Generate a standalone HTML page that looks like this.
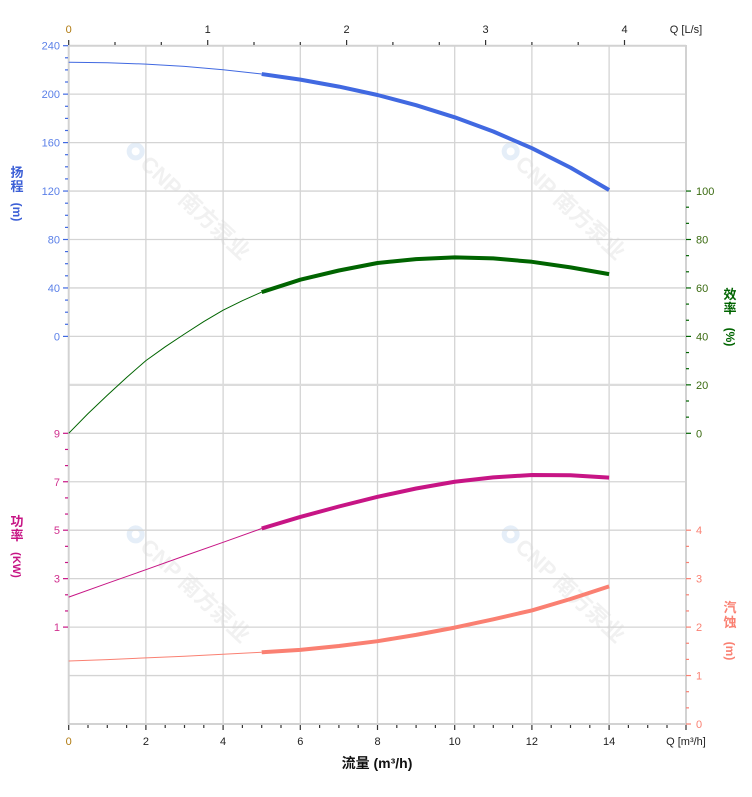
<!DOCTYPE html>
<html><head><meta charset="utf-8">
<style>
html,body{margin:0;padding:0;background:#fff;}
svg{display:block;}
text{font-family:"Liberation Sans","Noto Sans CJK SC",Arial,sans-serif;}
</style></head>
<body>
<svg width="752" height="797" viewBox="0 0 752 797" xmlns="http://www.w3.org/2000/svg">
<rect width="752" height="797" fill="#fff"/>

<!-- watermarks -->
<g opacity="0.75">
<g transform="translate(185,207) rotate(43)"><circle cx="-74" cy="-7" r="9" fill="#dde9f6"/><circle cx="-74" cy="-7" r="4" fill="#fff"/><text x="-62" y="1" font-size="22" font-weight="bold" fill="#ececec">CNP 南方泵业</text></g>
<g transform="translate(560,207) rotate(43)"><circle cx="-74" cy="-7" r="9" fill="#dde9f6"/><circle cx="-74" cy="-7" r="4" fill="#fff"/><text x="-62" y="1" font-size="22" font-weight="bold" fill="#ececec">CNP 南方泵业</text></g>
<g transform="translate(185,590) rotate(43)"><circle cx="-74" cy="-7" r="9" fill="#dde9f6"/><circle cx="-74" cy="-7" r="4" fill="#fff"/><text x="-62" y="1" font-size="22" font-weight="bold" fill="#ececec">CNP 南方泵业</text></g>
<g transform="translate(560,590) rotate(43)"><circle cx="-74" cy="-7" r="9" fill="#dde9f6"/><circle cx="-74" cy="-7" r="4" fill="#fff"/><text x="-62" y="1" font-size="22" font-weight="bold" fill="#ececec">CNP 南方泵业</text></g>
</g>

<!-- grid -->
<g stroke="#d4d4d4" stroke-width="1.3">
<line x1="145.9" y1="45.7" x2="145.9" y2="724"/>
<line x1="223.1" y1="45.7" x2="223.1" y2="724"/>
<line x1="300.3" y1="45.7" x2="300.3" y2="724"/>
<line x1="377.5" y1="45.7" x2="377.5" y2="724"/>
<line x1="454.7" y1="45.7" x2="454.7" y2="724"/>
<line x1="531.9" y1="45.7" x2="531.9" y2="724"/>
<line x1="609.1" y1="45.7" x2="609.1" y2="724"/>
<line x1="68.7" y1="94.15" x2="686" y2="94.15"/>
<line x1="68.7" y1="142.6" x2="686" y2="142.6"/>
<line x1="68.7" y1="191.05" x2="686" y2="191.05"/>
<line x1="68.7" y1="239.5" x2="686" y2="239.5"/>
<line x1="68.7" y1="287.95" x2="686" y2="287.95"/>
<line x1="68.7" y1="336.4" x2="686" y2="336.4"/>
<line x1="68.7" y1="433.3" x2="686" y2="433.3"/>
<line x1="68.7" y1="481.75" x2="686" y2="481.75"/>
<line x1="68.7" y1="530.2" x2="686" y2="530.2"/>
<line x1="68.7" y1="578.65" x2="686" y2="578.65"/>
<line x1="68.7" y1="627.1" x2="686" y2="627.1"/>
<line x1="68.7" y1="675.55" x2="686" y2="675.55"/>
</g>
<line x1="68.7" y1="384.85" x2="686" y2="384.85" stroke="#dcdcdc" stroke-width="2.2"/>

<!-- frame -->
<g stroke="#d2d2d2" stroke-width="2">
<line x1="68.7" y1="45.7" x2="686" y2="45.7"/>
<line x1="68.7" y1="724" x2="686" y2="724"/>
<line x1="68.7" y1="45" x2="68.7" y2="725"/>
<line x1="686" y1="45" x2="686" y2="725"/>
</g>

<!-- top ticks (L/s) -->
<g stroke="#333" stroke-width="1.2">
<line x1="68.7" y1="40" x2="68.7" y2="45"/>
<line x1="115.0" y1="42" x2="115.0" y2="45"/>
<line x1="161.3" y1="42" x2="161.3" y2="45"/>
<line x1="207.7" y1="40" x2="207.7" y2="45"/>
<line x1="254.0" y1="42" x2="254.0" y2="45"/>
<line x1="300.3" y1="42" x2="300.3" y2="45"/>
<line x1="346.6" y1="40" x2="346.6" y2="45"/>
<line x1="392.9" y1="42" x2="392.9" y2="45"/>
<line x1="439.3" y1="42" x2="439.3" y2="45"/>
<line x1="485.6" y1="40" x2="485.6" y2="45"/>
<line x1="531.9" y1="42" x2="531.9" y2="45"/>
<line x1="578.2" y1="42" x2="578.2" y2="45"/>
<line x1="624.5" y1="40" x2="624.5" y2="45"/>
</g>
<g font-size="11" fill="#222" text-anchor="middle">
<text x="68.7" y="33" fill="#b07a10">0</text>
<text x="207.7" y="33">1</text>
<text x="346.6" y="33">2</text>
<text x="485.6" y="33">3</text>
<text x="624.5" y="33">4</text>
<text x="686" y="33">Q [L/s]</text>
</g>

<!-- bottom ticks (m3/h) -->
<g stroke="#333" stroke-width="1.2">
<line x1="68.7" y1="725" x2="68.7" y2="730"/>
<line x1="88.0" y1="725" x2="88.0" y2="728"/>
<line x1="107.3" y1="725" x2="107.3" y2="728"/>
<line x1="126.6" y1="725" x2="126.6" y2="728"/>
<line x1="145.9" y1="725" x2="145.9" y2="730"/>
<line x1="165.2" y1="725" x2="165.2" y2="728"/>
<line x1="184.5" y1="725" x2="184.5" y2="728"/>
<line x1="203.8" y1="725" x2="203.8" y2="728"/>
<line x1="223.1" y1="725" x2="223.1" y2="730"/>
<line x1="242.4" y1="725" x2="242.4" y2="728"/>
<line x1="261.7" y1="725" x2="261.7" y2="728"/>
<line x1="281.0" y1="725" x2="281.0" y2="728"/>
<line x1="300.3" y1="725" x2="300.3" y2="730"/>
<line x1="319.6" y1="725" x2="319.6" y2="728"/>
<line x1="338.9" y1="725" x2="338.9" y2="728"/>
<line x1="358.2" y1="725" x2="358.2" y2="728"/>
<line x1="377.5" y1="725" x2="377.5" y2="730"/>
<line x1="396.8" y1="725" x2="396.8" y2="728"/>
<line x1="416.1" y1="725" x2="416.1" y2="728"/>
<line x1="435.4" y1="725" x2="435.4" y2="728"/>
<line x1="454.7" y1="725" x2="454.7" y2="730"/>
<line x1="474.0" y1="725" x2="474.0" y2="728"/>
<line x1="493.3" y1="725" x2="493.3" y2="728"/>
<line x1="512.6" y1="725" x2="512.6" y2="728"/>
<line x1="531.9" y1="725" x2="531.9" y2="730"/>
<line x1="551.2" y1="725" x2="551.2" y2="728"/>
<line x1="570.5" y1="725" x2="570.5" y2="728"/>
<line x1="589.8" y1="725" x2="589.8" y2="728"/>
<line x1="609.1" y1="725" x2="609.1" y2="730"/>
<line x1="628.4" y1="725" x2="628.4" y2="728"/>
<line x1="647.7" y1="725" x2="647.7" y2="728"/>
<line x1="667.0" y1="725" x2="667.0" y2="728"/>
<line x1="686" y1="725" x2="686" y2="730"/>
</g>
<g font-size="11" fill="#222" text-anchor="middle">
<text x="68.7" y="745" fill="#b07a10">0</text>
<text x="145.9" y="745">2</text>
<text x="223.1" y="745">4</text>
<text x="300.3" y="745">6</text>
<text x="377.5" y="745">8</text>
<text x="454.7" y="745">10</text>
<text x="531.9" y="745">12</text>
<text x="609.1" y="745">14</text>
<text x="686" y="745">Q [m³/h]</text>
</g>
<text x="377" y="768" font-size="14" font-weight="bold" fill="#111" text-anchor="middle">流量 (m³/h)</text>

<!-- left head axis ticks -->
<g stroke="#4169E1" stroke-width="1.2">
<line x1="63" y1="45.7" x2="68" y2="45.7"/>
<line x1="65" y1="57.8" x2="68" y2="57.8"/>
<line x1="65" y1="69.9" x2="68" y2="69.9"/>
<line x1="65" y1="82.0" x2="68" y2="82.0"/>
<line x1="63" y1="94.15" x2="68" y2="94.15"/>
<line x1="65" y1="106.3" x2="68" y2="106.3"/>
<line x1="65" y1="118.4" x2="68" y2="118.4"/>
<line x1="65" y1="130.5" x2="68" y2="130.5"/>
<line x1="63" y1="142.6" x2="68" y2="142.6"/>
<line x1="65" y1="154.7" x2="68" y2="154.7"/>
<line x1="65" y1="166.8" x2="68" y2="166.8"/>
<line x1="65" y1="178.9" x2="68" y2="178.9"/>
<line x1="63" y1="191.05" x2="68" y2="191.05"/>
<line x1="65" y1="203.2" x2="68" y2="203.2"/>
<line x1="65" y1="215.3" x2="68" y2="215.3"/>
<line x1="65" y1="227.4" x2="68" y2="227.4"/>
<line x1="63" y1="239.5" x2="68" y2="239.5"/>
<line x1="65" y1="251.6" x2="68" y2="251.6"/>
<line x1="65" y1="263.7" x2="68" y2="263.7"/>
<line x1="65" y1="275.8" x2="68" y2="275.8"/>
<line x1="63" y1="287.95" x2="68" y2="287.95"/>
<line x1="65" y1="300.1" x2="68" y2="300.1"/>
<line x1="65" y1="312.2" x2="68" y2="312.2"/>
<line x1="65" y1="324.3" x2="68" y2="324.3"/>
<line x1="63" y1="336.4" x2="68" y2="336.4"/>
</g>
<g font-size="11" fill="#5b80e8" text-anchor="end">
<text x="60" y="49.7">240</text>
<text x="60" y="98.2">200</text>
<text x="60" y="146.6">160</text>
<text x="60" y="195">120</text>
<text x="60" y="243.5">80</text>
<text x="60" y="292">40</text>
<text x="60" y="340.4">0</text>
</g>
<g fill="#3c5fd6" font-size="13" font-weight="bold" text-anchor="middle">
<text x="17" y="177" font-family="'Noto Sans CJK SC',sans-serif">扬</text>
<text x="17" y="191" font-family="'Noto Sans CJK SC',sans-serif">程</text>
<text transform="translate(17,212) rotate(90)" y="4" font-size="12">(m)</text>
</g>

<!-- left power axis ticks -->
<g stroke="#C71585" stroke-width="1.2">
<line x1="63" y1="433.3" x2="68" y2="433.3"/>
<line x1="65" y1="449.45" x2="68" y2="449.45"/>
<line x1="65" y1="465.6" x2="68" y2="465.6"/>
<line x1="63" y1="481.75" x2="68" y2="481.75"/>
<line x1="65" y1="497.9" x2="68" y2="497.9"/>
<line x1="65" y1="514.05" x2="68" y2="514.05"/>
<line x1="63" y1="530.2" x2="68" y2="530.2"/>
<line x1="65" y1="546.35" x2="68" y2="546.35"/>
<line x1="65" y1="562.5" x2="68" y2="562.5"/>
<line x1="63" y1="578.65" x2="68" y2="578.65"/>
<line x1="65" y1="594.8" x2="68" y2="594.8"/>
<line x1="65" y1="610.95" x2="68" y2="610.95"/>
<line x1="63" y1="627.1" x2="68" y2="627.1"/>
</g>
<g font-size="11" fill="#d0308f" text-anchor="end">
<text x="60" y="437.3">9</text>
<text x="60" y="485.8">7</text>
<text x="60" y="534.2">5</text>
<text x="60" y="582.7">3</text>
<text x="60" y="631.1">1</text>
</g>
<g fill="#C71585" font-size="13" font-weight="bold" text-anchor="middle">
<text x="17" y="526" font-family="'Noto Sans CJK SC',sans-serif">功</text>
<text x="17" y="540" font-family="'Noto Sans CJK SC',sans-serif">率</text>
<text transform="translate(17,565) rotate(90)" y="4" font-size="11">(KW)</text>
</g>

<!-- right efficiency axis ticks -->
<g stroke="#006400" stroke-width="1.2">
<line x1="686" y1="191.05" x2="691" y2="191.05"/>
<line x1="686" y1="207.2" x2="689" y2="207.2"/>
<line x1="686" y1="223.35" x2="689" y2="223.35"/>
<line x1="686" y1="239.5" x2="691" y2="239.5"/>
<line x1="686" y1="255.65" x2="689" y2="255.65"/>
<line x1="686" y1="271.8" x2="689" y2="271.8"/>
<line x1="686" y1="287.95" x2="691" y2="287.95"/>
<line x1="686" y1="304.1" x2="689" y2="304.1"/>
<line x1="686" y1="320.25" x2="689" y2="320.25"/>
<line x1="686" y1="336.4" x2="691" y2="336.4"/>
<line x1="686" y1="352.55" x2="689" y2="352.55"/>
<line x1="686" y1="368.7" x2="689" y2="368.7"/>
<line x1="686" y1="384.85" x2="691" y2="384.85"/>
<line x1="686" y1="401.0" x2="689" y2="401.0"/>
<line x1="686" y1="417.15" x2="689" y2="417.15"/>
<line x1="686" y1="433.3" x2="691" y2="433.3"/>
</g>
<g font-size="11" fill="#3a6a10" text-anchor="start">
<text x="696" y="195">100</text>
<text x="696" y="243.5">80</text>
<text x="696" y="292">60</text>
<text x="696" y="340.4">40</text>
<text x="696" y="388.9">20</text>
<text x="696" y="437.3">0</text>
</g>
<g fill="#006400" font-size="13" font-weight="bold" text-anchor="middle">
<text x="730" y="299" font-family="'Noto Sans CJK SC',sans-serif">效</text>
<text x="730" y="313" font-family="'Noto Sans CJK SC',sans-serif">率</text>
<text transform="translate(730,337) rotate(90)" y="4" font-size="12">(%)</text>
</g>

<!-- right NPSH axis ticks -->
<g stroke="#FA8072" stroke-width="1.2">
<line x1="686" y1="530.2" x2="691" y2="530.2"/>
<line x1="686" y1="546.35" x2="689" y2="546.35"/>
<line x1="686" y1="562.5" x2="689" y2="562.5"/>
<line x1="686" y1="578.65" x2="691" y2="578.65"/>
<line x1="686" y1="594.8" x2="689" y2="594.8"/>
<line x1="686" y1="610.95" x2="689" y2="610.95"/>
<line x1="686" y1="627.1" x2="691" y2="627.1"/>
<line x1="686" y1="643.25" x2="689" y2="643.25"/>
<line x1="686" y1="659.4" x2="689" y2="659.4"/>
<line x1="686" y1="675.55" x2="691" y2="675.55"/>
<line x1="686" y1="691.7" x2="689" y2="691.7"/>
<line x1="686" y1="707.85" x2="689" y2="707.85"/>
<line x1="686" y1="724" x2="691" y2="724"/>
</g>
<g font-size="11" fill="#FA8072" text-anchor="start">
<text x="696" y="534.2">4</text>
<text x="696" y="582.7">3</text>
<text x="696" y="631.1">2</text>
<text x="696" y="679.6">1</text>
<text x="696" y="728">0</text>
</g>
<g fill="#FA8072" font-size="13" font-weight="bold" text-anchor="middle">
<text x="730" y="612" font-family="'Noto Sans CJK SC',sans-serif">汽</text>
<text x="730" y="627" font-family="'Noto Sans CJK SC',sans-serif">蚀</text>
<text transform="translate(730,651) rotate(90)" y="4" font-size="12">(m)</text>
</g>

<!-- curves -->
<g fill="none" stroke-linejoin="round">
<polyline stroke="#4169E1" stroke-width="1" points="68.7,62.3 107.3,62.7 145.9,64.1 184.5,66.4 223.1,69.7 261.7,74.05"/>
<polyline stroke="#4169E1" stroke-width="4" points="261.7,74.05 300.3,79.6 338.9,86.6 377.5,95.0 416.1,105.2 454.7,117.3 493.3,131.5 531.9,148.2 570.5,167.6 609.1,190.0"/>

<polyline stroke="#006400" stroke-width="1" points="68.7,433.3 88,413.6 107.3,395.3 126.6,377.5 145.9,360.6 165.2,346.8 184.5,334.0 203.8,321.6 223.1,310.2 242.4,300.7 261.7,292.1"/>
<polyline stroke="#006400" stroke-width="4" points="261.7,292.1 300.3,279.7 338.9,270.5 377.5,263.0 416.1,259.1 454.7,257.4 493.3,258.4 531.9,261.8 570.5,267.4 609.1,274.1"/>

<polyline stroke="#C71585" stroke-width="1" points="68.7,597.1 107.3,583.3 145.9,569.7 184.5,555.9 223.1,542.3 261.7,528.5"/>
<polyline stroke="#C71585" stroke-width="4" points="261.7,528.5 300.3,516.9 338.9,506.5 377.5,496.8 416.1,488.5 454.7,481.75 493.3,477.4 531.9,475.0 570.5,475.2 609.1,477.6"/>

<polyline stroke="#FA8072" stroke-width="1" points="68.7,661.0 107.3,659.6 145.9,657.9 184.5,656.2 223.1,654.2 261.7,652.3"/>
<polyline stroke="#FA8072" stroke-width="4" points="261.7,652.3 300.3,649.9 338.9,646.0 377.5,641.2 416.1,634.9 454.7,627.6 493.3,619.3 531.9,610.4 570.5,599.0 609.1,586.4"/>
</g>
</svg>
</body></html>
